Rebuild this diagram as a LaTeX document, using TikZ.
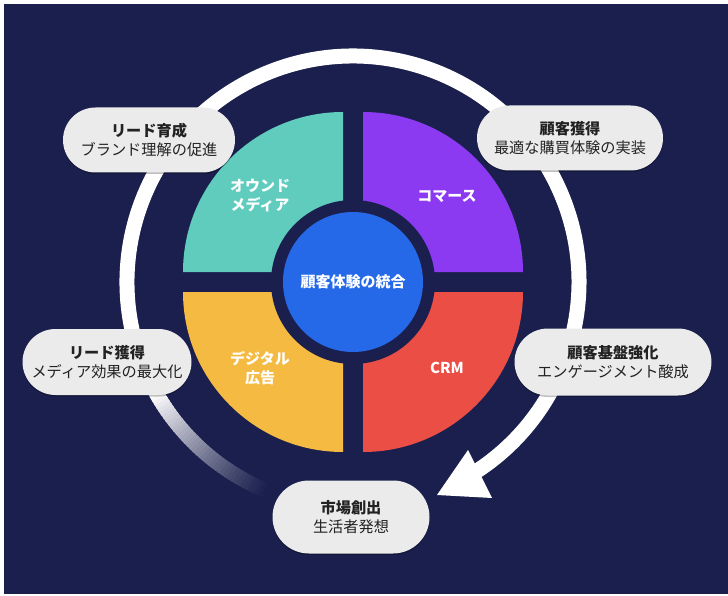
\documentclass[tikz,border=0pt]{standalone}
\usepackage{fontspec}
\setmainfont{Noto Sans CJK JP}
\usetikzlibrary{shapes.misc,shadows}
\definecolor{bgnavy}{RGB}{26,31,77}
\definecolor{qteal}{RGB}{95,204,190}
\definecolor{qpurple}{RGB}{139,58,242}
\definecolor{qyellow}{RGB}{244,186,66}
\definecolor{qred}{RGB}{234,78,69}
\definecolor{cblue}{RGB}{37,105,232}
\definecolor{boxgray}{RGB}{235,235,235}
\definecolor{textdark}{RGB}{34,34,34}
\tikzset{
  pill/.style={rounded rectangle, fill=boxgray, align=center, text=textdark,
    inner sep=0pt, font=\fontsize{15.2}{19}\selectfont,
    drop shadow={shadow xshift=0pt, shadow yshift=-1.5pt, opacity=0.25, fill=black}},
  qlabel/.style={align=center, text=white, font=\fontsize{15}{19}\selectfont\bfseries},
  ring/.style={line width=15pt}
}
\begin{document}
\begin{tikzpicture}[x=1pt,y=-1pt]
\useasboundingbox (0,0) rectangle (728,596);
\fill[white] (0,0) rectangle (728,596);
\fill[bgnavy] (4,4) rectangle (728,594);
\coordinate (C) at (353,282);
% outer ring with fading tail
\foreach \a in {112,...,150} {
  \pgfmathsetmacro\p{100*((\a-112)/38)^1.2}
  \draw[ring, color=white!\p!bgnavy] (C) ++(\a:226) arc[start angle=\a, end angle=\a+1.5, radius=226];
}
\draw[ring, white] (C) ++(151:226) arc[start angle=151, end angle=418, radius=226];
\coordinate (t1) at (437,495);
\coordinate (t2) at (468,450);
\coordinate (t3) at (492,498);
\fill[white] (t1) -- (t2) -- (t3) -- cycle;
% quadrants
\fill[qteal] (343,272) -- ++(180:160) arc[start angle=180, end angle=270, radius=160] -- cycle;
\fill[qpurple] (363,272) -- ++(270:160) arc[start angle=270, end angle=360, radius=160] -- cycle;
\fill[qred] (363,292) -- ++(0:160) arc[start angle=0, end angle=90, radius=160] -- cycle;
\fill[qyellow] (343,292) -- ++(90:160) arc[start angle=90, end angle=180, radius=160] -- cycle;
\fill[bgnavy] (C) circle[radius=82];
\node[circle, fill=cblue, minimum size=140pt, inner sep=0pt, text=white,
  font=\fontsize{15}{18}\selectfont\bfseries] (core) at (C) {顧客体験の統合};
\node[qlabel] (owned) at (260,196) {オウンド\\メディア};
\node[qlabel] (commerce) at (447,196) {コマース};
\node[qlabel] (digital) at (260,368) {デジタル\\広告};
\node[qlabel] (crm) at (447,368) {CRM};
% pills
\node[pill, minimum width=172pt, minimum height=65pt] (lead1) at (149,140) {\textbf{リード育成}\\ブランド理解の促進};
\node[pill, minimum width=186pt, minimum height=65pt] (cust1) at (570,138) {\textbf{顧客獲得}\\最適な購買体験の実装};
\node[pill, minimum width=169pt, minimum height=66pt] (lead2) at (107,362) {\textbf{リード獲得}\\メディア効果の最大化};
\node[pill, minimum width=197pt, minimum height=67pt] (cust2) at (613,362) {\textbf{顧客基盤強化}\\エンゲージメント酸成};
\node[pill, minimum width=157pt, minimum height=73pt] (market) at (351,517) {\textbf{市場創出}\\生活者発想};
\end{tikzpicture}
\end{document}
